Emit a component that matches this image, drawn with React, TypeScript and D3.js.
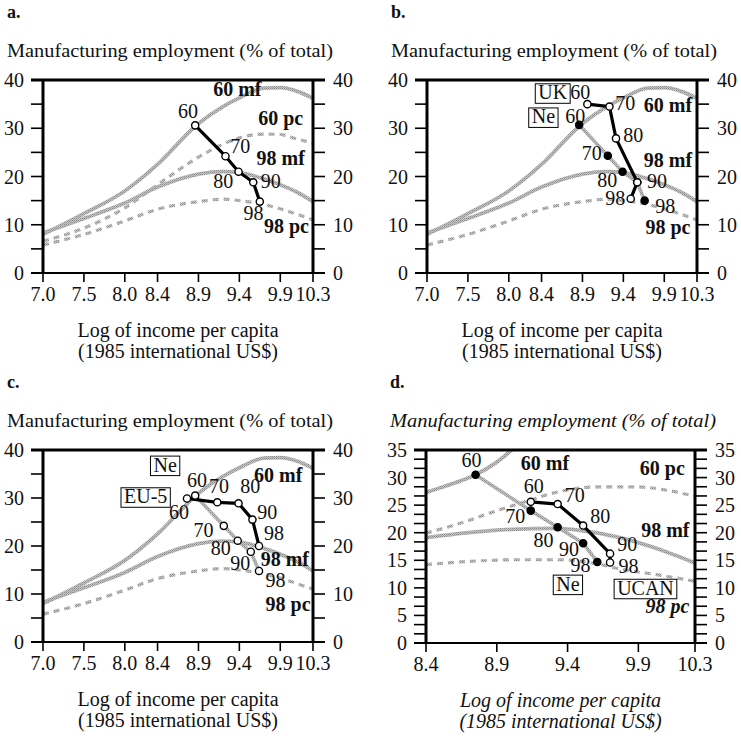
import React from 'react';
import * as d3 from 'd3';

type Pt = [number, number];

// ---- reference curves (panels a–c) ----
const mf60: Pt[] = [[7.0, 8.0], [7.5, 12.3], [8.0, 17.0], [8.4, 22.5], [8.9, 31.0], [9.2, 34.5], [9.4, 36.3], [9.7, 38.3], [9.9, 38.4], [10.1, 37.7], [10.3, 36.2]];
const mf98: Pt[] = [[7.0, 8.3], [7.5, 11.3], [8.0, 14.5], [8.4, 17.8], [8.9, 20.5], [9.2, 21.0], [9.4, 20.8], [9.7, 19.5], [9.9, 18.3], [10.1, 16.8], [10.3, 14.8]];
const pc60: Pt[] = [[7.0, 6.6], [7.5, 9.3], [8.0, 13.5], [8.4, 18.3], [8.9, 24.0], [9.2, 26.7], [9.4, 28.0], [9.7, 28.8], [9.9, 28.7], [10.1, 27.8], [10.3, 26.9]];
const pc98: Pt[] = [[7.0, 5.8], [7.5, 8.0], [8.0, 10.8], [8.4, 13.2], [8.9, 14.8], [9.2, 15.3], [9.4, 15.0], [9.7, 14.2], [9.9, 13.3], [10.1, 12.2], [10.3, 11.0]];

// ---- reference curves (panel d) ----
const mf60d: Pt[] = [[8.4, 27.3], [8.6, 29.0], [8.75, 30.5], [8.9, 32.8], [9.05, 36.0]];
const mf98d: Pt[] = [[8.4, 19.1], [8.7, 20.0], [9.0, 20.6], [9.3, 20.8], [9.6, 20.0], [9.9, 18.2], [10.1, 16.5], [10.3, 14.5]];
const pc60d: Pt[] = [[8.4, 19.9], [8.7, 22.2], [8.9, 24.0], [9.1, 25.6], [9.3, 27.2], [9.6, 28.3], [9.9, 28.3], [10.1, 27.7], [10.3, 26.6]];
const pc98d: Pt[] = [[8.4, 14.2], [8.7, 14.8], [9.07, 15.1], [9.32, 15.1], [9.6, 14.4], [9.79, 13.3], [10.03, 12.4], [10.3, 11.2]];

// ---- country paths (1960, 1970, 1980, 1990, 1998) ----
const years = ['60', '70', '80', '90', '98'];
const neA: Pt[] = [[8.86, 30.6], [9.23, 24.2], [9.39, 21.0], [9.57, 18.8], [9.65, 14.8]];
const ukB: Pt[] = [[8.96, 35.0], [9.23, 34.5], [9.31, 27.9], [9.57, 18.8], [9.49, 15.4]];
const neB: Pt[] = [[8.86, 30.7], [9.21, 24.3], [9.39, 21.0], [9.57, 18.8], [9.66, 15.0]];
const neC: Pt[] = [[8.86, 30.5], [9.21, 24.2], [9.38, 21.1], [9.54, 18.8], [9.64, 14.8]];
const eu5C: Pt[] = [[8.76, 29.9], [9.13, 29.1], [9.39, 28.9], [9.56, 25.5], [9.64, 20.0]];
const neD: Pt[] = [[8.75, 30.5], [9.14, 24.0], [9.33, 21.0], [9.51, 18.1], [9.61, 14.7]];
const ucanD: Pt[] = [[9.14, 25.6], [9.33, 25.2], [9.51, 21.3], [9.70, 16.2], [9.70, 14.6]];

// ---- axes ----
const xTicksFull = [7.0, 7.5, 8.0, 8.4, 8.9, 9.4, 9.9, 10.3];
const xTicksD = [8.4, 8.9, 9.4, 9.9, 10.3];
const yTicks40 = [0, 10, 20, 30, 40];
const yMinor40 = [5, 15, 25, 35];
const yTicks35 = [0, 5, 10, 15, 20, 25, 30, 35];
const yMinor35 = d3.range(0, 21).map((i) => (i * 5) / 3).filter((v) => v % 5 > 0.01 && v % 5 < 4.99);

const yTitle = 'Manufacturing employment (% of total)';
const xTitle1 = 'Log of income per capita';
const xTitle2 = '(1985 international US$)';

type Ann = { t: string; x: number; y: number; bold?: boolean; box?: boolean; italic?: boolean };
type Curve = { pts: Pt[]; dashed: boolean };
type CPath = { pts: Pt[]; black: boolean; filled: boolean };

const annA: Ann[] = [
  { t: '60 mf', x: 9.08, y: 36.6, bold: true },
  { t: '60 pc', x: 9.63, y: 30.7, bold: true },
  { t: '98 mf', x: 9.61, y: 22.4, bold: true },
  { t: '98 pc', x: 9.70, y: 8.3, bold: true },
  { t: '60', x: 8.65, y: 32.1 },
  { t: '70', x: 9.29, y: 24.8 },
  { t: '80', x: 9.08, y: 17.6 },
  { t: '90', x: 9.66, y: 17.6 },
  { t: '98', x: 9.45, y: 11.0 },
];
const annB: Ann[] = [
  { t: 'UK', x: 8.36, y: 36.0, box: true },
  { t: '60', x: 8.75, y: 36.0 },
  { t: '70', x: 9.30, y: 33.8 },
  { t: '60 mf', x: 9.65, y: 33.4, bold: true },
  { t: 'Ne', x: 8.28, y: 31.0, box: true },
  { t: '60', x: 8.69, y: 31.0 },
  { t: '80', x: 9.40, y: 27.2 },
  { t: '70', x: 8.89, y: 23.4 },
  { t: '98 mf', x: 9.65, y: 21.9, bold: true },
  { t: '80', x: 9.08, y: 17.9 },
  { t: '90', x: 9.69, y: 17.7 },
  { t: '98', x: 9.18, y: 14.1 },
  { t: '98', x: 9.79, y: 12.5 },
  { t: '98 pc', x: 9.67, y: 8.0, bold: true },
];
const annC: Ann[] = [
  { t: 'Ne', x: 8.35, y: 35.5, box: true },
  { t: 'EU-5', x: 7.99, y: 28.9, box: true },
  { t: '60', x: 8.76, y: 32.3 },
  { t: '70', x: 9.03, y: 31.0 },
  { t: '80', x: 9.41, y: 31.0 },
  { t: '60 mf', x: 9.58, y: 33.4, bold: true },
  { t: '60', x: 8.54, y: 25.7 },
  { t: '90', x: 9.62, y: 25.7 },
  { t: '70', x: 8.84, y: 21.9 },
  { t: '98', x: 9.70, y: 21.2 },
  { t: '80', x: 9.05, y: 18.1 },
  { t: '98 mf', x: 9.66, y: 15.9, bold: true },
  { t: '90', x: 9.29, y: 15.0 },
  { t: '98', x: 9.72, y: 11.4 },
  { t: '98 pc', x: 9.72, y: 6.4, bold: true },
];
const annD: Ann[] = [
  { t: '60', x: 8.65, y: 32.0 },
  { t: '60 mf', x: 9.07, y: 31.4, bold: true },
  { t: '60 pc', x: 9.91, y: 30.5, bold: true },
  { t: '60', x: 9.09, y: 27.2 },
  { t: '70', x: 9.38, y: 25.6 },
  { t: '70', x: 8.96, y: 21.7 },
  { t: '80', x: 9.56, y: 21.7 },
  { t: '98 mf', x: 9.92, y: 19.3, bold: true },
  { t: '80', x: 9.16, y: 17.5 },
  { t: '90', x: 9.75, y: 16.6 },
  { t: '90', x: 9.34, y: 15.8 },
  { t: '98', x: 9.42, y: 12.9 },
  { t: '98', x: 9.76, y: 12.7 },
  { t: 'Ne', x: 9.32, y: 9.5, box: true },
  { t: 'UCAN', x: 9.75, y: 8.75, box: true },
  { t: '98 pc', x: 9.95, y: 5.5, bold: true, italic: true },
];

type PanelCfg = {
  letter: string; left: number; top: number; width: number; height: number;
  xDomain: [number, number]; yDomain: [number, number];
  xTicks: number[]; yTicks: number[]; yMinor: number[];
  curves: Curve[]; paths: CPath[]; ann: Ann[]; italic?: boolean;
};

const FONT = "'Liberation Serif', 'Times New Roman', serif";
const FS = 20;

let _ctx: CanvasRenderingContext2D | null = null;
function textWidth(t: string, size: number, bold = false, italic = false) {
  if (!_ctx) _ctx = document.createElement('canvas').getContext('2d');
  if (!_ctx) return t.length * size * 0.5;
  _ctx.font = `${italic ? 'italic ' : ''}${bold ? 'bold ' : ''}${size}px 'Liberation Serif'`;
  return _ctx.measureText(t).width;
}

function Panel({ cfg }: { cfg: PanelCfg }) {
  const { left, top, width, height } = cfg;
  const right = left + width;
  const bottom = top + height;
  const xs = d3.scaleLinear().domain(cfg.xDomain).range([left, right]);
  const ys = d3.scaleLinear().domain(cfg.yDomain).range([bottom, top]);
  const smooth = d3.line<Pt>().x((d) => xs(d[0])).y((d) => ys(d[1])).curve(d3.curveMonotoneX);
  const straight = d3.line<Pt>().x((d) => xs(d[0])).y((d) => ys(d[1]));
  const clipId = `clip-${cfg.letter}`;
  const it = cfg.italic ? 'italic' : 'normal';
  const tick = 12;
  return (
    <g fontFamily={FONT} fill="#111">
      <defs>
        <clipPath id={clipId}>
          <rect x={left} y={top} width={width} height={height} />
        </clipPath>
      </defs>
      <text x={left - 36} y={top - 62} fontSize={18} fontWeight="bold">{cfg.letter}.</text>
      <text x={left - 36} y={top - 23} fontSize={19.5} fontStyle={it} textLength={326} lengthAdjust="spacingAndGlyphs">{yTitle}</text>

      <g clipPath={`url(#${clipId})`}>
        {cfg.curves.map((c, i) => (
          <path key={i} d={smooth(c.pts) || ''} fill="none" stroke="url(#halftone)"
            strokeWidth={c.dashed ? 3.2 : 3.8} strokeDasharray={c.dashed ? '6 5' : undefined} />
        ))}
        {cfg.paths.filter((p) => !p.black).map((p, i) => (
          <path key={'g' + i} d={straight(p.pts) || ''} fill="none" stroke="url(#halftone)" strokeWidth={3.6} />
        ))}
        {cfg.paths.filter((p) => p.black).map((p, i) => (
          <path key={'b' + i} d={straight(p.pts) || ''} fill="none" stroke="#000" strokeWidth={3.2} strokeLinejoin="round" />
        ))}
        {cfg.paths.map((p, i) => p.pts.map((d, j) => (
          <circle key={`c${i}-${j}-${years[j]}`} cx={xs(d[0])} cy={ys(d[1])} r={3.6}
            fill={p.filled ? '#000' : '#fff'} stroke="#000" strokeWidth={1.4} />
        )))}
      </g>

      {cfg.ann.map((a, i) => {
        const x = xs(a.x);
        const y = ys(a.y);
        const w = textWidth(a.t, FS, a.bold, a.italic);
        return (
          <g key={'a' + i}>
            {a.box && (
              <rect x={x - 3} y={y - 15.5} width={w + 6} height={19.5} fill="#fff" stroke="#000" strokeWidth={1} />
            )}
            <text x={x} y={y} fontSize={FS} fontWeight={a.bold ? 'bold' : 'normal'}
              fontStyle={a.italic ? 'italic' : 'normal'}>{a.t}</text>
          </g>
        );
      })}

      {/* frame */}
      <line x1={left - tick} x2={right + tick} y1={top} y2={top} stroke="#000" strokeWidth={2.8} />
      <line x1={left - tick} x2={right + tick} y1={bottom} y2={bottom} stroke="#000" strokeWidth={2} />
      <line x1={left} x2={left} y1={top} y2={bottom} stroke="#000" strokeWidth={3} />
      <line x1={right} x2={right} y1={top} y2={bottom} stroke="#000" strokeWidth={3} />

      {[...cfg.yTicks, ...cfg.yMinor].map((v, i) => (
        <g key={'yt' + i}>
          <line x1={left - tick} x2={left} y1={ys(v)} y2={ys(v)} stroke="#000" strokeWidth={1.6} />
          <line x1={right} x2={right + tick} y1={ys(v)} y2={ys(v)} stroke="#000" strokeWidth={1.6} />
        </g>
      ))}
      {cfg.yTicks.map((v) => (
        <g key={'yl' + v} fontSize={FS}>
          <text x={left - 19} y={ys(v)} dy="0.35em" textAnchor="end">{v}</text>
          <text x={right + 20} y={ys(v)} dy="0.35em" textAnchor="start">{v}</text>
        </g>
      ))}
      {cfg.xTicks.map((v) => (
        <g key={'xt' + v}>
          <line x1={xs(v)} x2={xs(v)} y1={bottom} y2={bottom + 9} stroke="#000" strokeWidth={1.6} />
          <text x={xs(v)} y={bottom + 28} fontSize={FS} textAnchor="middle">{d3.format('.1f')(v)}</text>
        </g>
      ))}
      <text x={(left + right) / 2} y={bottom + 64} fontSize={FS} textAnchor="middle" fontStyle={it}>{xTitle1}</text>
      <text x={(left + right) / 2} y={bottom + 85} fontSize={FS} textAnchor="middle" fontStyle={it}>{xTitle2}</text>
    </g>
  );
}

const curvesAll: Curve[] = [
  { pts: mf60, dashed: false }, { pts: pc60, dashed: true }, { pts: mf98, dashed: false }, { pts: pc98, dashed: true },
];
const curvesBC: Curve[] = [
  { pts: mf60, dashed: false }, { pts: mf98, dashed: false }, { pts: pc98, dashed: true },
];
const curvesD: Curve[] = [
  { pts: mf60d, dashed: false }, { pts: pc60d, dashed: true }, { pts: mf98d, dashed: false }, { pts: pc98d, dashed: true },
];

const panels: PanelCfg[] = [
  { letter: 'a', left: 43, top: 80, width: 270, height: 193, xDomain: [7.0, 10.3], yDomain: [0, 40], xTicks: xTicksFull, yTicks: yTicks40, yMinor: yMinor40, curves: curvesAll, paths: [{ pts: neA, black: true, filled: false }], ann: annA },
  { letter: 'b', left: 427, top: 80, width: 270, height: 193, xDomain: [7.0, 10.3], yDomain: [0, 40], xTicks: xTicksFull, yTicks: yTicks40, yMinor: yMinor40, curves: curvesBC, paths: [{ pts: neB, black: false, filled: true }, { pts: ukB, black: true, filled: false }], ann: annB },
  { letter: 'c', left: 43, top: 450, width: 270, height: 192, xDomain: [7.0, 10.3], yDomain: [0, 40], xTicks: xTicksFull, yTicks: yTicks40, yMinor: yMinor40, curves: curvesBC, paths: [{ pts: neC, black: false, filled: false }, { pts: eu5C, black: true, filled: false }], ann: annC },
  { letter: 'd', left: 426, top: 450, width: 269, height: 193, xDomain: [8.4, 10.3], yDomain: [0, 35], xTicks: xTicksD, yTicks: yTicks35, yMinor: yMinor35, curves: curvesD, paths: [{ pts: neD, black: false, filled: true }, { pts: ucanD, black: true, filled: false }], ann: annD, italic: true },
];

export default function App() {
  return (
    <svg width={741} height={736} style={{ position: 'absolute', left: 0, top: 0, background: '#fff' }}>
      <defs>
        <pattern id="halftone" width={2} height={2} patternUnits="userSpaceOnUse">
          <rect width={2} height={2} fill="#c4c4c4" />
          <rect width={1} height={1} fill="#8c8c8c" />
          <rect x={1} y={1} width={1} height={1} fill="#a6a6a6" />
        </pattern>
      </defs>
      <rect width={741} height={736} fill="#fff" />
      {panels.map((p) => <Panel key={p.letter} cfg={p} />)}
    </svg>
  );
}
